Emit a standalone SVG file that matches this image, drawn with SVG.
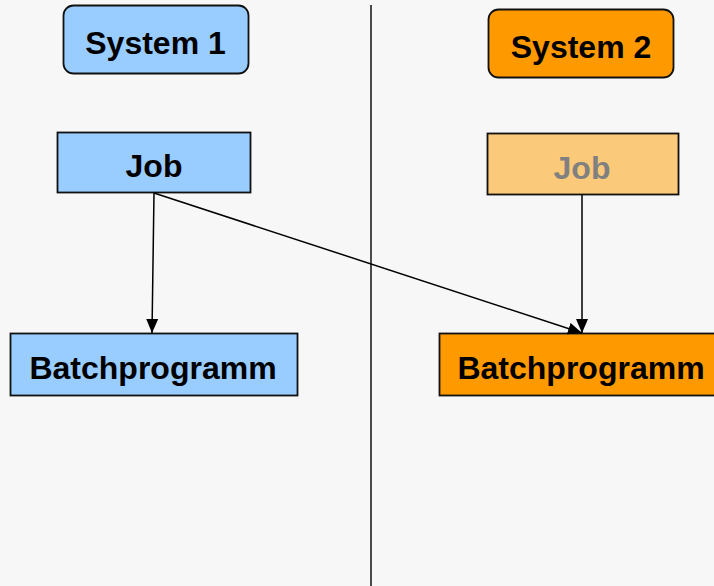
<svg xmlns="http://www.w3.org/2000/svg" width="714" height="586" viewBox="0 0 714 586">
<style>
.box{stroke:#111;stroke-width:1.8}
.t{font-family:"Liberation Sans",Arial,sans-serif;font-weight:bold;font-size:32px;text-anchor:middle;fill:#000}
.c{stroke:#000;stroke-width:1.5;fill:none;marker-end:url(#ah)}
</style>
<defs>
<marker id="ah" viewBox="0 0 14 12" refX="14" refY="6" markerWidth="14" markerHeight="12" markerUnits="userSpaceOnUse" orient="auto">
<path d="M0,0 L14,6 L0,12 Z" fill="#000"/>
</marker>
</defs>
<rect x="0" y="0" width="714" height="586" fill="#f7f7f7"/>
<line x1="371" y1="5" x2="371" y2="586" stroke="#111" stroke-width="1.5"/>
<g id="system1">
<rect class="box" x="63.5" y="5.5" width="185" height="68" rx="10" fill="#99ccff"/>
<text class="t" x="155.5" y="54">System 1</text>
</g>
<g id="system2">
<rect class="box" x="488.5" y="9.5" width="185" height="68" rx="10" fill="#ff9900"/>
<text class="t" x="581" y="58">System 2</text>
</g>
<g id="job1">
<rect class="box" x="57.5" y="132.5" width="193" height="60" fill="#99ccff"/>
<text class="t" x="154" y="177">Job</text>
</g>
<g id="job2">
<rect class="box" x="487.5" y="133.5" width="191" height="61" fill="#fbc97a"/>
<text class="t" x="582" y="179" style="fill:#808080">Job</text>
</g>
<g id="batch1">
<rect class="box" x="10.5" y="333.5" width="287" height="62" fill="#99ccff"/>
<text class="t" x="153" y="379">Batchprogramm</text>
</g>
<g id="batch2">
<rect class="box" x="439.5" y="333.5" width="280" height="62" fill="#ff9900"/>
<text class="t" x="581" y="379">Batchprogramm</text>
</g>
<g id="connectors">
<path class="c" d="M154,193 L152,333"/>
<path class="c" d="M154,193 L582,333"/>
<path class="c" d="M582,195 L582,333"/>
</g>
</svg>
